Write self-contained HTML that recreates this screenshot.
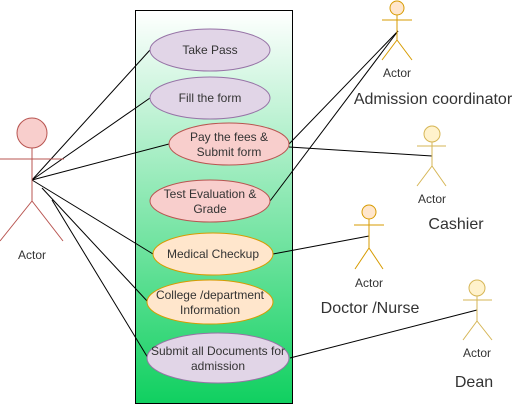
<!DOCTYPE html>
<html><head><style>body{margin:0;background:#fff}svg{display:block}text{font-family:"Liberation Sans",sans-serif;fill:#333}</style></head><body>
<svg width="522" height="414" viewBox="0 0 522 414" xmlns="http://www.w3.org/2000/svg">
<defs><linearGradient id="g" x1="0" y1="0" x2="0" y2="1"><stop offset="0" stop-color="#ffffff"/><stop offset="1" stop-color="#10d060"/></linearGradient></defs>
<rect x="135.5" y="10.5" width="157" height="393" fill="url(#g)" stroke="#000"/>
<g stroke="#000" stroke-width="1" fill="none">
<line x1="32" y1="180" x2="150" y2="50"/>
<line x1="32" y1="180" x2="150" y2="98"/>
<line x1="32" y1="180" x2="169" y2="144"/>
<line x1="32" y1="180" x2="153" y2="254"/>
<line x1="42" y1="188" x2="148" y2="302"/>
<line x1="52" y1="200" x2="148" y2="358"/>
<line x1="398" y1="31" x2="289" y2="144"/>
<line x1="398" y1="31" x2="270" y2="201"/>
<line x1="289" y1="147" x2="432" y2="156"/>
<line x1="273" y1="254" x2="369" y2="236"/>
<line x1="290" y1="358" x2="477" y2="310"/>
</g>
<g font-size="12" text-anchor="middle">
<ellipse cx="210" cy="50" rx="60" ry="21" fill="#e1d5e7" stroke="#9673a6"/><text x="210" y="54">Take Pass</text>
<ellipse cx="210" cy="98" rx="60" ry="21" fill="#e1d5e7" stroke="#9673a6"/><text x="210" y="102">Fill the form</text>
<ellipse cx="229" cy="144" rx="60" ry="21" fill="#f8cecc" stroke="#b85450"/><text x="229" y="141">Pay the fees &amp;</text><text x="229" y="156">Submit form</text>
<ellipse cx="210" cy="201" rx="60" ry="21" fill="#f8cecc" stroke="#b85450"/><text x="210" y="198">Test Evaluation &amp;</text><text x="210" y="213">Grade</text>
<ellipse cx="213" cy="254" rx="60" ry="21" fill="#ffe6cc" stroke="#d79b00"/><text x="213" y="258">Medical Checkup</text>
<ellipse cx="210" cy="302" rx="63" ry="22" fill="#ffe6cc" stroke="#d79b00"/><text x="210" y="299">College /department</text><text x="210" y="314">Information</text>
<ellipse cx="218" cy="358" rx="71" ry="25" fill="#e1d5e7" stroke="#9673a6"/><text x="218" y="355">Submit all Documents for</text><text x="218" y="370">admission</text>
</g>
<g fill="#f8cecc" stroke="#b85450">
<circle cx="32" cy="133" r="15"/>
<path d="M32 148V201M0 159H64M32 201L0 241M32 201L63 241" fill="none"/>
</g>
<g fill="#ffe6cc" stroke="#d79b00">
<circle cx="397" cy="8" r="7"/><path d="M397 15V40M382 20H412M397 40L382 60M397 40L412 60" fill="none"/>
<circle cx="369" cy="212" r="7"/><path d="M369 219V248M354 225H384M369 248L355 269M369 248L383 269" fill="none"/>
</g>
<g fill="#fff2cc" stroke="#d6b656">
<circle cx="432" cy="134" r="8"/><path d="M432 142V166M417 146H446M432 166L417 186M432 166L446 186" fill="none"/>
<circle cx="477" cy="288" r="8"/><path d="M477 296V321M463 300H492M477 321L463 340M477 321L492 340" fill="none"/>
</g>
<g font-size="12" text-anchor="middle">
<text x="32" y="259">Actor</text>
<text x="397" y="77">Actor</text>
<text x="432" y="203">Actor</text>
<text x="369" y="287">Actor</text>
<text x="477" y="357">Actor</text>
</g>
<g font-size="16" text-anchor="middle">
<text x="433" y="104">Admission coordinator</text>
<text x="456" y="229">Cashier</text>
<text x="370" y="313">Doctor /Nurse</text>
<text x="474" y="387">Dean</text>
</g>
</svg>
</body></html>
